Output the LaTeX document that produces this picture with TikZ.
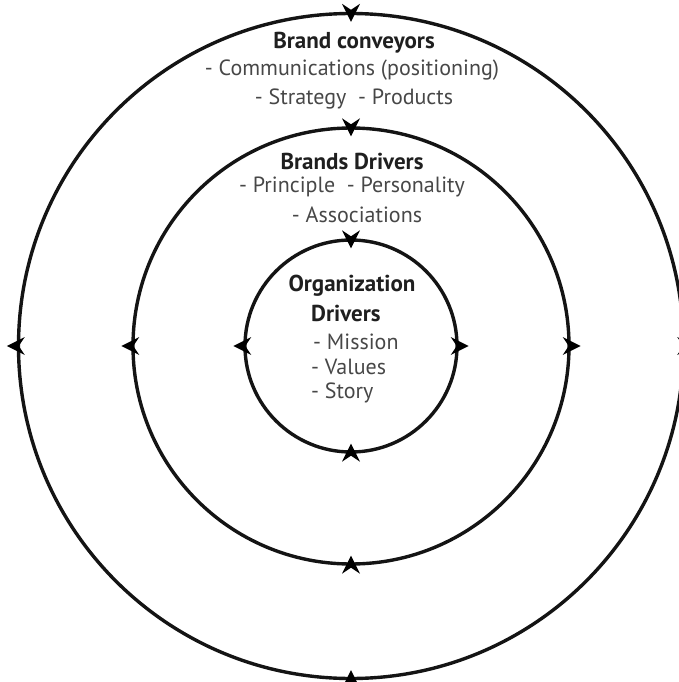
\documentclass[tikz,border=0pt]{standalone}
\usepackage{fontspec}
\setmainfont{PT Sans}
\begin{document}
\begin{tikzpicture}[x=1pt,y=-1pt,
  ring/.style={draw=black!92,line width=3.4pt,circle,inner sep=0pt},
  ttl/.style={font=\bfseries\fontsize{23}{26}\selectfont,text=black!88,inner sep=0pt},
  itm/.style={font=\fontsize{22}{25}\selectfont,text=black!72,inner sep=0pt},
  mk/.style={fill=black}]
\useasboundingbox (0,0) rectangle (678,682);
\coordinate (c) at (351,346);
\node[ring,minimum size=665pt] (outer) at (c) {};
\node[ring,minimum size=436pt] (middle) at (c) {};
\node[ring,minimum size=212pt] (inner) at (c) {};
\foreach \n in {outer,middle,inner}{
  \foreach \a/\d in {north/90,south/-90,east/0,west/180}{
    \fill[mk,shift={(\n.\a)},rotate=-\d] (10,0) -- (-8,9) -- (-2,0) -- (-8,-9) -- cycle;
  }
}
\node[ttl] (t1) at (354,43) {Brand conveyors};
\node[itm] (t1a) at (352,70) {- Communications (positioning)};
\node[itm] (t1b) at (354,99) {- Strategy \ - Products};
\node[ttl] (t2) at (352,161) {Brands Drivers};
\node[itm] (t2a) at (352,187) {- Principle \ - Personality};
\node[itm] (t2b) at (357,215) {- Associations};
\node[ttl] (t3) at (352,286) {Organization};
\node[ttl,anchor=west] (t3b) at (311,313) {Drivers};
\node[itm,anchor=west] (t3c) at (313,342) {- Mission};
\node[itm,anchor=west] (t3d) at (311,367) {- Values};
\node[itm,anchor=west] (t3e) at (311,393) {- Story};
\end{tikzpicture}
\end{document}
